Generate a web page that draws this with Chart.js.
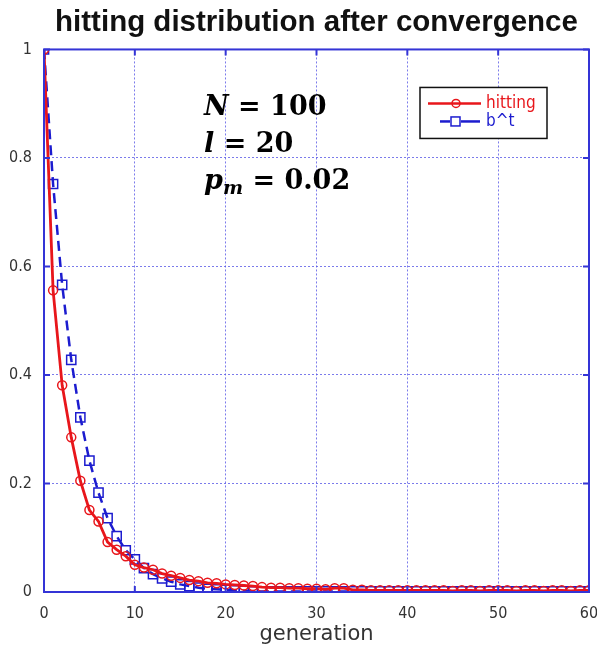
<!DOCTYPE html>
<html>
<head>
<meta charset="utf-8">
<script src="https://cdn.jsdelivr.net/npm/chart.js@4.4.1/dist/chart.umd.min.js"></script>
<style>
    html, body { margin: 0; padding: 0; background: #fff; }
    #chartcontainer { position: relative; width: 597px; height: 648px; }
    #note {
        position: absolute;
        left: 204px;
        top: 87px;
        font-family: "DejaVu Serif", serif;
        font-weight: bold;
        font-size: 27px;
        line-height: 37px;
        color: #000;
    }
    #note i { font-style: italic; }
    #note sub { font-size: 19px; vertical-align: -5px; line-height: 0; }
</style>
</head>
<body>
<div id="chartcontainer">
    <canvas id="canvas" width="597" height="648"></canvas>
    <div id="note">
        <div><i>N</i> = 100</div>
        <div><i>l</i> = 20</div>
        <div><i>p</i><sub><i>m</i></sub> = 0.02</div>
    </div>
</div>
<script>
    var generations = [0, 1, 2, 3, 4, 5, 6, 7, 8, 9,
        10, 11, 12, 13, 14, 15, 16, 17, 18, 19,
        20, 21, 22, 23, 24, 25, 26, 27, 28, 29,
        30, 31, 32, 33, 34, 35, 36, 37, 38, 39,
        40, 41, 42, 43, 44, 45, 46, 47, 48, 49,
        50, 51, 52, 53, 54, 55, 56, 57, 58, 59, 60];

    var hitting = [1.000, 0.556, 0.381, 0.285, 0.205, 0.151, 0.130, 0.092, 0.078, 0.066,
        0.050, 0.045, 0.041, 0.034, 0.030, 0.026, 0.022, 0.020, 0.017, 0.016,
        0.014, 0.013, 0.012, 0.011, 0.009, 0.008, 0.008, 0.007, 0.007, 0.006,
        0.006, 0.005, 0.007, 0.007, 0.004, 0.004, 0.003, 0.003, 0.003, 0.003,
        0.003, 0.003, 0.003, 0.003, 0.003, 0.002, 0.003, 0.003, 0.002, 0.003,
        0.003, 0.003, 0.002, 0.003, 0.003, 0.002, 0.003, 0.003, 0.002, 0.003, 0.003];

    var bt = [1.000, 0.752, 0.566, 0.428, 0.322, 0.242, 0.183, 0.136, 0.103, 0.077,
        0.060, 0.044, 0.033, 0.025, 0.019, 0.014, 0.011, 0.008, 0.006, 0.005,
        0.004, 0.003, 0.002, 0.001, 0.001, 0.001, 0.001, 0.001, 0.001, 0.001,
        0.001, 0.001, 0.001, 0.001, 0.001, 0.001, 0.001, 0.001, 0.001, 0.001,
        0.001, 0.001, 0.001, 0.001, 0.001, 0.001, 0.001, 0.001, 0.001, 0.001,
        0.001, 0.001, 0.001, 0.001, 0.001, 0.001, 0.001, 0.001, 0.001, 0.001, 0.001];

    var xTicks = [0, 10, 20, 30, 40, 50, 60];
    var yTicks = [0, 0.2, 0.4, 0.6, 0.8, 1];

    var RED = '#e8161b';
    var BLUE = '#1c1ccf';
    var FRAME = '#3434d6';
    var GRID = 'rgba(90,90,230,0.8)';
    var tickFont = { family: '"Liberation Sans Narrow", "DejaVu Sans Condensed", "Liberation Sans", sans-serif', size: 16 };

    function toPoints(vals) {
        return generations.map(function (g, i) { return { x: g, y: vals[i] }; });
    }

    // frame, inward tick marks and the boxed legend, matlab style
    var matlabFrame = {
        id: 'matlabFrame',
        afterDraw: function (chart) {
            var ctx = chart.ctx;
            var a = chart.chartArea;
            var xs = chart.scales.x, ys = chart.scales.y;
            ctx.save();
            ctx.strokeStyle = FRAME;
            ctx.lineWidth = 2;
            ctx.setLineDash([]);
            ctx.strokeRect(a.left, a.top, a.right - a.left, a.bottom - a.top);
            ctx.beginPath();
            xTicks.forEach(function (t) {
                var px = xs.getPixelForValue(t);
                ctx.moveTo(px, a.bottom); ctx.lineTo(px, a.bottom - 6);
                ctx.moveTo(px, a.top); ctx.lineTo(px, a.top + 6);
            });
            yTicks.forEach(function (t) {
                var py = ys.getPixelForValue(t);
                ctx.moveTo(a.left, py); ctx.lineTo(a.left + 6, py);
                ctx.moveTo(a.right, py); ctx.lineTo(a.right - 6, py);
            });
            ctx.stroke();

            // legend box
            var bx = a.right - 169, by = a.top + 38, bw = 127, bh = 51;
            ctx.fillStyle = '#fff';
            ctx.fillRect(bx, by, bw, bh);
            ctx.strokeStyle = '#111';
            ctx.lineWidth = 1.5;
            ctx.strokeRect(bx, by, bw, bh);

            var ds = chart.data.datasets;
            ctx.font = '17px "Liberation Sans Narrow", "DejaVu Sans Condensed", sans-serif';
            ctx.textBaseline = 'middle';

            // hitting
            var y1 = by + 16;
            ctx.strokeStyle = ds[0].borderColor;
            ctx.lineWidth = 2.5;
            ctx.beginPath(); ctx.moveTo(bx + 8, y1); ctx.lineTo(bx + 61, y1); ctx.stroke();
            ctx.lineWidth = 1.5;
            ctx.beginPath(); ctx.arc(bx + 36, y1, 4, 0, Math.PI * 2); ctx.stroke();
            ctx.fillStyle = ds[0].borderColor;
            ctx.fillText(ds[0].label, bx + 66, y1);

            // b^t
            var y2 = by + 34;
            ctx.strokeStyle = ds[1].borderColor;
            ctx.lineWidth = 2.5;
            ctx.beginPath(); ctx.moveTo(bx + 20, y2); ctx.lineTo(bx + 30, y2); ctx.stroke();
            ctx.beginPath(); ctx.moveTo(bx + 41, y2); ctx.lineTo(bx + 60, y2); ctx.stroke();
            ctx.lineWidth = 1.5;
            ctx.strokeRect(bx + 31, y2 - 4.5, 9, 9);
            ctx.fillStyle = ds[1].borderColor;
            ctx.fillText(ds[1].label, bx + 66, y2);
            ctx.restore();
        }
    };

    var ctx = document.getElementById('canvas').getContext('2d');

    var config = {
        type: 'line',
        data: {
            datasets: [
                {
                    label: 'hitting',
                    data: toPoints(hitting),
                    borderColor: RED,
                    borderWidth: 2.8,
                    pointStyle: 'circle',
                    pointRadius: 4.5,
                    pointBorderWidth: 1.5,
                    pointBorderColor: RED,
                    pointBackgroundColor: 'rgba(0,0,0,0)',
                    tension: 0,
                    order: 1
                },
                {
                    label: 'b^t',
                    data: toPoints(bt),
                    borderColor: BLUE,
                    borderWidth: 2.5,
                    borderDash: [10, 6],
                    pointStyle: 'rect',
                    pointRadius: 6.5,
                    pointBorderWidth: 1.5,
                    pointBorderColor: BLUE,
                    pointBackgroundColor: 'rgba(0,0,0,0)',
                    tension: 0,
                    order: 2
                }
            ]
        },
        options: {
            responsive: false,
            animation: false,
            layout: { padding: { left: 0, right: 8, top: 0, bottom: 0 } },
            plugins: {
                legend: { display: false },
                tooltip: { enabled: false },
                title: {
                    display: true,
                    text: 'hitting distribution after convergence',
                    fullSize: false,
                    color: '#111',
                    font: { family: '"Liberation Sans", Arial, sans-serif', size: 29.5, weight: 'bold', lineHeight: 1.1 },
                    padding: { top: 7, bottom: 10 }
                }
            },
            scales: {
                x: {
                    type: 'linear',
                    min: 0,
                    max: 60,
                    afterFit: function (s) { s.height = 56; s.paddingRight = 0; s.paddingLeft = 0; },
                    ticks: {
                        stepSize: 10,
                        color: '#333',
                        font: tickFont,
                        padding: 12,
                        maxRotation: 0
                    },
                    grid: { color: GRID, lineWidth: 1, drawTicks: false },
                    border: { display: false, dash: [2, 2] },
                    title: {
                        display: true,
                        text: 'generation',
                        color: '#333',
                        font: { family: '"DejaVu Sans", sans-serif', size: 21 },
                        padding: { top: 0, bottom: 1 }
                    }
                },
                y: {
                    type: 'linear',
                    min: 0,
                    max: 1,
                    afterFit: function (s) { s.width = 44; s.paddingTop = 0; s.paddingBottom = 0; },
                    ticks: {
                        stepSize: 0.2,
                        color: '#333',
                        font: tickFont,
                        padding: 12,
                        callback: function (v) { return String(+v.toFixed(1)); }
                    },
                    grid: { color: GRID, lineWidth: 1, drawTicks: false },
                    border: { display: false, dash: [2, 2] }
                }
            }
        },
        plugins: [matlabFrame]
    };

    var chart = new Chart(ctx, config);
</script>
</body>
</html>
